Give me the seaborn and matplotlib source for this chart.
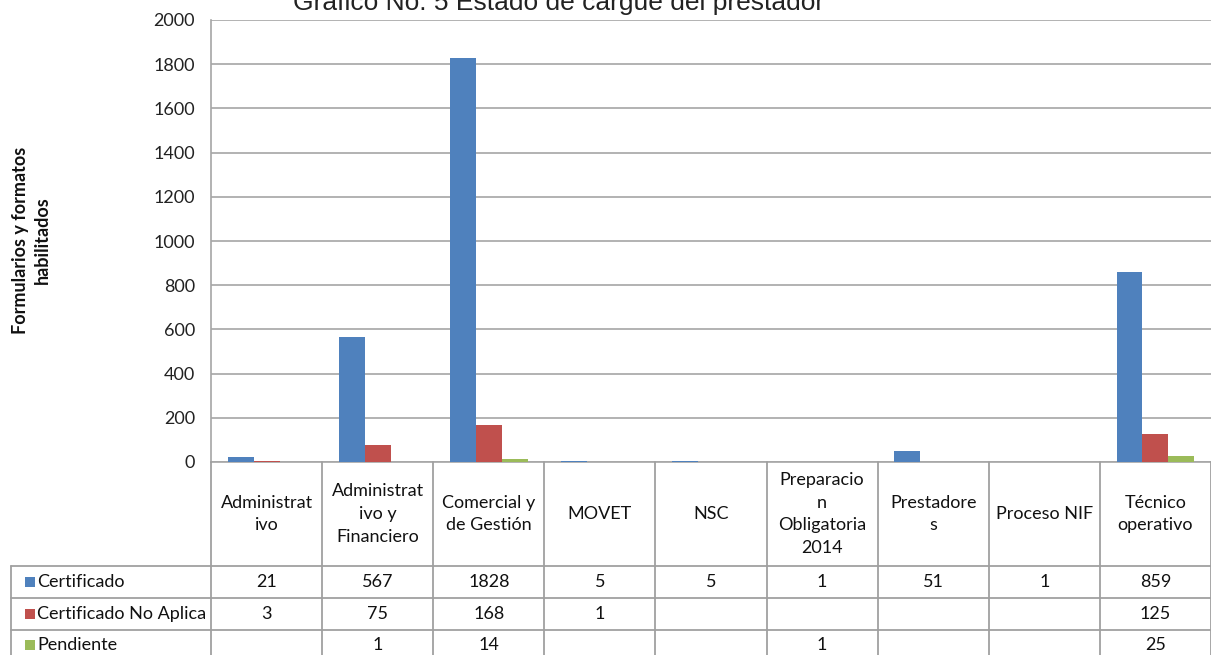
import numpy as np
import pandas as pd
import matplotlib
matplotlib.use("Agg")
import matplotlib.pyplot as plt
import matplotlib.transforms as mtransforms
from matplotlib.lines import Line2D
from matplotlib.patches import Rectangle
import seaborn as sns

categories = ["Administrativo", "Administrativo y Financiero", "Comercial y de Gestión",
              "MOVET", "NSC", "Preparacion Obligatoria 2014", "Prestadores",
              "Proceso NIF", "Técnico operativo"]
header_labels = ["Administrat\nivo", "Administrat\nivo y\nFinanciero", "Comercial y\nde Gestión",
                 "MOVET", "NSC", "Preparacio\nn\nObligatoria\n2014", "Prestadore\ns",
                 "Proceso NIF", "Técnico\noperativo"]
series = ["Certificado", "Certificado No Aplica", "Pendiente"]
certificado = [21, 567, 1828, 5, 5, 1, 51, 1, 859]
certificado_no_aplica = [3, 75, 168, 1, None, None, None, None, 125]
pendiente = [None, 1, 14, None, None, 1, None, None, 25]
colors = ["#4F81BD", "#C0504D", "#9BBB59"]
yticks = [0, 200, 400, 600, 800, 1000, 1200, 1400, 1600, 1800, 2000]
title = "Grafico No. 5 Estado de cargue del prestador"
ylabel = "Formularios y formatos\nhabilitados"

rows = []
for s, vals in zip(series, [certificado, certificado_no_aplica, pendiente]):
    for c, v in zip(categories, vals):
        if v is not None:
            rows.append({"cat": c, "serie": s, "val": v})
df = pd.DataFrame(rows)

sns.set_style("white")
plt.rcParams["font.family"] = ["Lato", "DejaVu Sans"]

W, H = 1211, 655
fig = plt.figure(figsize=(W / 100, H / 100), dpi=100)
ax = fig.add_axes([211 / W, 1 - 462 / H, 1000 / W, 442 / H])

sns.barplot(data=df, x="cat", y="val", hue="serie", order=categories,
            hue_order=series, palette=colors, width=0.7, ax=ax,
            saturation=1, legend=False, errorbar=None, linewidth=0, zorder=3)

ax.set_xlim(-0.5, 8.5)
ax.set_ylim(0, 2000)
ax.set_yticks(yticks)
ax.set_yticklabels([str(t) for t in yticks], fontsize=13, color="#222222")
ax.tick_params(axis="y", length=0, pad=11.5)
ax.set_xticks([])
ax.set_xlabel("")
ax.set_ylabel("")
ax.grid(axis="y", color="#A6A6A6", linewidth=1.2)
ax.set_axisbelow(True)
for side in ["top", "right"]:
    ax.spines[side].set_visible(False)
ax.spines["left"].set_color("#A6A6A6")
ax.spines["left"].set_linewidth(1.2)
ax.spines["bottom"].set_color("#A6A6A6")
ax.spines["bottom"].set_linewidth(1.2)

# title (partly cropped at top, as in the reference)
fig.text(559 / W, 1 - 10 / H, title, ha="center", va="baseline",
         fontsize=19, family=["Liberation Sans", "DejaVu Sans"], color="#222222")

# y label
fig.text(31 / W, 1 - 240 / H, ylabel, rotation=90, ha="center", va="center",
         fontsize=13, fontweight="bold", linespacing=1.35, color="#111111")

# data table
def fy(py):
    return 1 - py / H

trans = mtransforms.blended_transform_factory(ax.transData, fig.transFigure)
lc = "#A0A0A0"
lw = 1.3
row_tops = [462, 566, 598, 630]
bottom = 660
for i in range(len(categories) + 1):
    x = i - 0.5
    fig.add_artist(Line2D([x, x], [fy(462), fy(bottom)], transform=trans,
                          color=lc, lw=lw, clip_on=False))
for py in row_tops[1:]:
    fig.add_artist(Line2D([11 / W, 1.0], [fy(py), fy(py)], transform=fig.transFigure,
                          color=lc, lw=lw))
fig.add_artist(Line2D([11 / W, 11 / W], [fy(566), fy(bottom)], transform=fig.transFigure,
                      color=lc, lw=lw))

for i, lab in enumerate(header_labels):
    ax.text(i, fy(514), lab, transform=trans, ha="center", va="center",
            fontsize=13, linespacing=1.5, color="#111111")

row_centers = [582, 614, 645]
for s, col, vals, yc in zip(series, colors, [certificado, certificado_no_aplica, pendiente], row_centers):
    fig.add_artist(Rectangle((25 / W, fy(yc + 5)), 10 / W, 10 / H, transform=fig.transFigure,
                             facecolor=col, edgecolor="none"))
    fig.text(37 / W, fy(yc), s, ha="left", va="center", fontsize=13, color="#111111")
    for i, v in enumerate(vals):
        if v is not None:
            ax.text(i, fy(yc), str(v), transform=trans, ha="center", va="center",
                    fontsize=13, color="#111111")

fig.savefig("out.png", dpi=100)
